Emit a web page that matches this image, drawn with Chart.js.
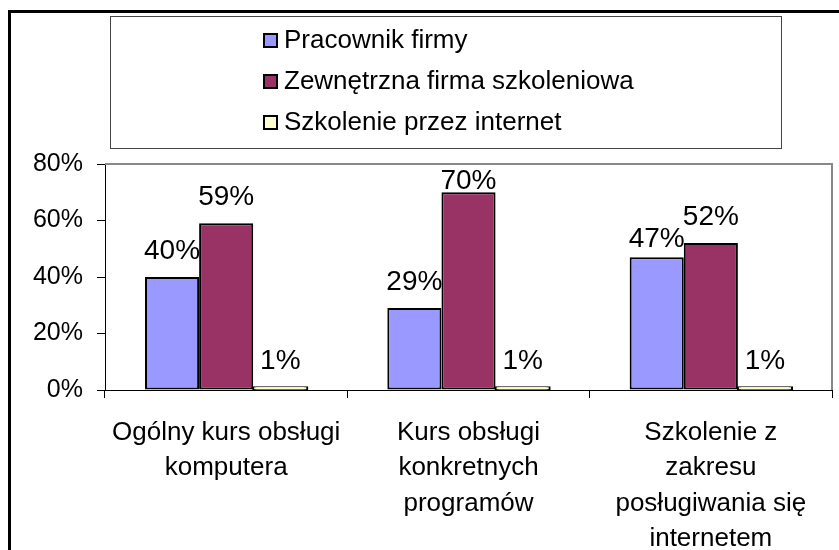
<!DOCTYPE html>
<html>
<head>
<meta charset="utf-8">
<script src="https://cdn.jsdelivr.net/npm/chart.js@4/dist/chart.umd.min.js"></script>
<style>
  html, body { margin: 0; padding: 0; background: #fff; }
  canvas { display: block; }
</style>
</head>
<body>
<canvas id="canvas" width="839" height="550"></canvas>
<script>
const categories = [
    ['Ogólny kurs obsługi', 'komputera'],
    ['Kurs obsługi', 'konkretnych', 'programów'],
    ['Szkolenie z', 'zakresu', 'posługiwania się', 'internetem']
]
const seriesNames = ['Pracownik firmy', 'Zewnętrzna firma szkoleniowa', 'Szkolenie przez internet']
const pracownikFirmy = [40, 29, 47]
const firmaSzkoleniowa = [59, 70, 52]
const przezInternet = [1, 1, 1]
const yTicks = [0, 20, 40, 60, 80]

const colors = ['#9999ff', '#993366', '#ffffcc']
const FONT = '"Liberation Sans", Arial, sans-serif'

// white page, thick frame on top and left, legend box
const frame = {
    id: 'frame',
    beforeDraw: (chart) => {
        const { ctx, width, height } = chart
        ctx.save()
        ctx.fillStyle = '#fff'
        ctx.fillRect(0, 0, width, height)
        ctx.strokeStyle = '#000'
        ctx.lineWidth = 3
        ctx.beginPath()
        ctx.moveTo(9.5, height)
        ctx.lineTo(9.5, 11.5)
        ctx.lineTo(width, 11.5)
        ctx.stroke()

        // legend
        ctx.lineWidth = 1
        ctx.strokeStyle = '#444'
        ctx.strokeRect(110.5, 16.5, 671, 132)
        ctx.font = '26px ' + FONT
        ctx.textBaseline = 'middle'
        ctx.textAlign = 'left'
        const rows = [40, 81, 122]
        chart.data.datasets.forEach((ds, i) => {
            const y = rows[i]
            ctx.fillStyle = ds.backgroundColor
            ctx.fillRect(264, y - 6, 13, 13)
            ctx.strokeStyle = '#000'
            ctx.lineWidth = 2
            ctx.strokeRect(264, y - 6, 13, 13)
            ctx.fillStyle = '#000'
            ctx.fillText(ds.label, 284, y + 1)
        })
        ctx.restore()
    },
    beforeDatasetsDraw: (chart) => {
        const { ctx, chartArea: a } = chart
        ctx.save()
        ctx.strokeStyle = '#888'
        ctx.lineWidth = 2
        ctx.beginPath()
        ctx.moveTo(a.left, a.top)
        ctx.lineTo(a.right, a.top)
        ctx.lineTo(a.right, a.bottom)
        ctx.stroke()
        ctx.restore()
    }
}

// value labels above bars, pushed down when they collide
const valueLabels = {
    id: 'valueLabels',
    afterDatasetsDraw: (chart) => {
        const { ctx, chartArea: a } = chart
        ctx.save()
        ctx.font = '28px ' + FONT
        ctx.fillStyle = '#000'
        ctx.textAlign = 'center'
        ctx.textBaseline = 'alphabetic'
        const gap = 18
        for (let i = 0; i < chart.data.labels.length; i++) {
            var boxes = []
            chart.data.datasets.forEach((ds, d) => {
                const el = chart.getDatasetMeta(d).data[i]
                const text = ds.data[i] + '%'
                const m = ctx.measureText(text)
                const h = m.actualBoundingBoxAscent
                let bottom = el.y - gap
                let top = bottom - h
                if (top < a.top + 6) { top = a.top + 6; bottom = top + h }
                boxes.push({ text, x: el.x, w: m.width, h, top, bottom })
            })
            boxes.sort((p, q) => p.top - q.top)
            var placed = []
            boxes.forEach((b) => {
                placed.forEach((p) => {
                    const overlapX = Math.abs(b.x - p.x) < (b.w + p.w) / 2
                    const overlapY = b.top < p.bottom && b.bottom > p.top
                    if (overlapX && overlapY) { b.top = p.bottom + 3; b.bottom = b.top + b.h }
                })
                placed.push(b)
                ctx.fillText(b.text, b.x, b.bottom)
            })
        }
        ctx.restore()
    }
}

var chart = new Chart(document.getElementById('canvas'), {
    type: 'bar',
    data: {
        labels: categories,
        datasets: [pracownikFirmy, firmaSzkoleniowa, przezInternet].map((values, i) => ({
            label: seriesNames[i],
            data: values,
            backgroundColor: colors[i],
            borderColor: '#000',
            borderWidth: 2,
            borderSkipped: false,
            // the thin 1% bars still need a visible outline
            inflateAmount: i === 2 ? 1 : 'auto',
            categoryPercentage: 0.67,
            barPercentage: 1.0
        }))
    },
    options: {
        responsive: false,
        animation: false,
        layout: { padding: { top: 164, right: 7, left: 0, bottom: 0 } },
        plugins: {
            legend: { display: false },
            tooltip: { enabled: false }
        },
        scales: {
            x: {
                afterFit: (scale) => { scale.height = 160 },
                grid: { drawOnChartArea: false, drawTicks: true, tickLength: 8, color: '#000', offset: true },
                border: { color: '#000', width: 1 },
                ticks: {
                    color: '#000',
                    font: { family: FONT, size: 26, lineHeight: 1.36 },
                    padding: 17,
                    maxRotation: 0,
                    autoSkip: false
                }
            },
            y: {
                min: yTicks[0],
                max: yTicks[yTicks.length - 1],
                afterFit: (scale) => { scale.width = 105 },
                afterBuildTicks: (scale) => { scale.ticks = yTicks.map(v => ({ value: v })) },
                grid: { drawOnChartArea: false, drawTicks: true, tickLength: 8, color: '#000' },
                border: { color: '#000', width: 1 },
                ticks: {
                    color: '#000',
                    font: { family: FONT, size: 25 },
                    padding: 14,
                    callback: (v) => v + '%'
                }
            }
        }
    },
    plugins: [frame, valueLabels]
})
</script>
</body>
</html>
